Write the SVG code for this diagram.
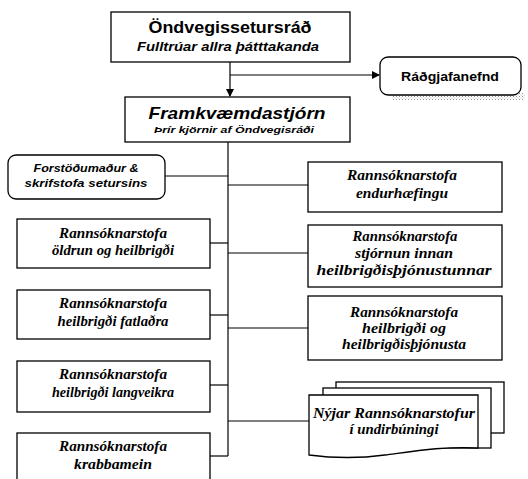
<svg xmlns="http://www.w3.org/2000/svg" width="528" height="479" viewBox="0 0 528 479">
<defs>
<style>
.box{fill:#fff;stroke:#000;stroke-width:1.3}
.ln{fill:none;stroke:#000;stroke-width:1.2}
.sans{font-family:"Liberation Sans",Arial,sans-serif;font-weight:bold;fill:#000}
.ser{font-family:"Liberation Serif","Times New Roman",serif;font-weight:bold;font-style:italic;font-size:14px;fill:#000}
text{text-anchor:middle}
</style>
<marker id="ah" markerWidth="8" markerHeight="8" refX="7" refY="4" orient="auto" markerUnits="userSpaceOnUse">
<path d="M0,0 L8,4 L0,8 Z" fill="#000"/>
</marker>
<pattern id="dots" width="3" height="3" patternUnits="userSpaceOnUse">
<rect width="3" height="3" fill="#fff"/>
<rect width="1" height="1" fill="#999"/>
<rect x="1.5" y="1.5" width="1" height="1" fill="#bbb"/>
</pattern>
</defs>

<g id="connectors">
<line class="ln" x1="230" y1="62" x2="230" y2="96" marker-end="url(#ah)"/>
<line class="ln" x1="230" y1="75" x2="379" y2="75" marker-end="url(#ah)"/>
<line class="ln" x1="228" y1="142" x2="228" y2="456"/>
<line class="ln" x1="165" y1="176" x2="228" y2="176"/>
<line class="ln" x1="210" y1="243" x2="228" y2="243"/>
<line class="ln" x1="210" y1="315" x2="228" y2="315"/>
<line class="ln" x1="210" y1="385" x2="228" y2="385"/>
<line class="ln" x1="210" y1="456" x2="228" y2="456"/>
<line class="ln" x1="228" y1="185" x2="308" y2="185"/>
<line class="ln" x1="228" y1="253" x2="308" y2="253"/>
<line class="ln" x1="228" y1="328" x2="308" y2="328"/>
<line class="ln" x1="228" y1="421" x2="309" y2="421"/>
</g>

<g id="ondvegissetursrad">
<rect class="box" x="111" y="12" width="239" height="50"/>
<text class="sans" x="230" y="33" font-size="16" textLength="163" lengthAdjust="spacingAndGlyphs">Öndvegissetursráð</text>
<text class="sans" x="228" y="51" font-size="13" font-style="italic" textLength="182" lengthAdjust="spacingAndGlyphs">Fulltrúar allra þátttakanda</text>
</g>

<g id="radgjafanefnd">
<rect x="392" y="93" width="133" height="7" fill="url(#dots)"/>
<rect class="box" x="380" y="57" width="141" height="38" rx="8"/>
<text class="sans" x="450" y="81" font-size="13.5" textLength="98" lengthAdjust="spacingAndGlyphs">Ráðgjafanefnd</text>
</g>

<g id="framkvaemdastjorn">
<rect class="box" x="125" y="97" width="225" height="45"/>
<text class="sans" x="237" y="119" font-size="17" font-style="italic" textLength="177" lengthAdjust="spacingAndGlyphs">Framkvæmdastjórn</text>
<text class="sans" x="234" y="133" font-size="9" font-style="italic" textLength="160" lengthAdjust="spacingAndGlyphs">Þrír kjörnir af Öndvegisráði</text>
</g>

<g id="forstodumadur">
<rect class="box" x="8" y="155" width="157" height="44" rx="8"/>
<text class="sans" x="86" y="172" font-size="10" font-style="italic" textLength="105" lengthAdjust="spacingAndGlyphs">Forstöðumaður &amp;</text>
<text class="sans" x="86" y="187" font-size="10" font-style="italic" textLength="123" lengthAdjust="spacingAndGlyphs">skrifstofa setursins</text>
</g>

<g id="endurhaefing">
<rect class="box" x="308" y="162" width="194" height="50"/>
<text class="ser" x="402" y="180" textLength="110" lengthAdjust="spacingAndGlyphs">Rannsóknarstofa</text>
<text class="ser" x="402" y="198" textLength="92" lengthAdjust="spacingAndGlyphs">endurhæfingu</text>
</g>

<g id="oldrun">
<rect class="box" x="17" y="219" width="193" height="49"/>
<text class="ser" x="113" y="238" textLength="108" lengthAdjust="spacingAndGlyphs">Rannsóknarstofa</text>
<text class="ser" x="113" y="255" textLength="122" lengthAdjust="spacingAndGlyphs">öldrun og heilbrigði</text>
</g>

<g id="stjornun">
<rect class="box" x="308" y="225" width="194" height="62"/>
<text class="ser" x="405" y="241" textLength="105" lengthAdjust="spacingAndGlyphs">Rannsóknarstofa</text>
<text class="ser" x="404" y="258" textLength="98" lengthAdjust="spacingAndGlyphs">stjórnun innan</text>
<text class="ser" x="404" y="275" textLength="175" lengthAdjust="spacingAndGlyphs">heilbrigðisþjónustunnar</text>
</g>

<g id="fatladra">
<rect class="box" x="17" y="290" width="193" height="49"/>
<text class="ser" x="113" y="308" textLength="108" lengthAdjust="spacingAndGlyphs">Rannsóknarstofa</text>
<text class="ser" x="113" y="326" textLength="111" lengthAdjust="spacingAndGlyphs">heilbrigði fatlaðra</text>
</g>

<g id="heilbrigdi-og-thjonusta">
<rect class="box" x="308" y="296" width="194" height="64"/>
<text class="ser" x="404" y="317" textLength="108" lengthAdjust="spacingAndGlyphs">Rannsóknarstofa</text>
<text class="ser" x="404" y="333" textLength="84" lengthAdjust="spacingAndGlyphs">heilbrigði og</text>
<text class="ser" x="404" y="349" textLength="124" lengthAdjust="spacingAndGlyphs">heilbrigðisþjónusta</text>
</g>

<g id="langveikra">
<rect class="box" x="17" y="361" width="193" height="51"/>
<text class="ser" x="113" y="379" textLength="108" lengthAdjust="spacingAndGlyphs">Rannsóknarstofa</text>
<text class="ser" x="113" y="397" textLength="122" lengthAdjust="spacingAndGlyphs">heilbrigði langveikra</text>
</g>

<g id="krabbamein">
<rect class="box" x="17" y="433" width="193" height="52"/>
<text class="ser" x="113" y="451" textLength="108" lengthAdjust="spacingAndGlyphs">Rannsóknarstofa</text>
<text class="ser" x="113" y="469" textLength="78" lengthAdjust="spacingAndGlyphs">krabbamein</text>
</g>

<g id="nyjar-rannsoknarstofur">
<rect class="box" x="336" y="382" width="168" height="51"/>
<rect class="box" x="323" y="388" width="168" height="60"/>
<path class="box" d="M309,395 H478 V448 C445,446 415,451 385,455 C355,459 332,458 309,455 Z"/>
<text class="ser" x="394" y="418" textLength="162" lengthAdjust="spacingAndGlyphs">Nýjar Rannsóknarstofur</text>
<text class="ser" x="394" y="434" textLength="89" lengthAdjust="spacingAndGlyphs">í undirbúningi</text>
</g>
</svg>
